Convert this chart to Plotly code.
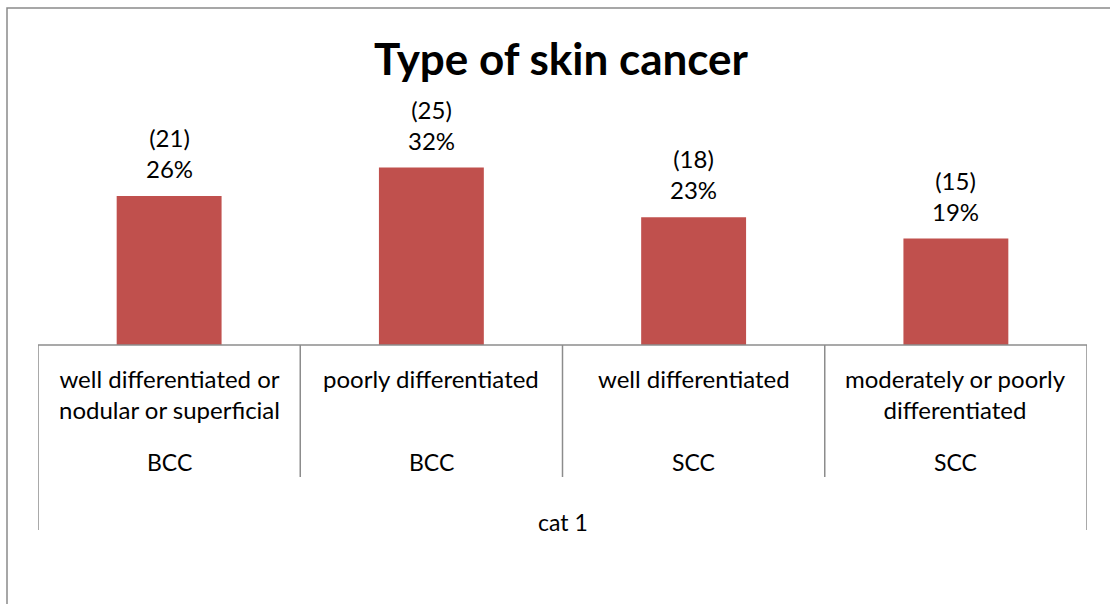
import plotly.graph_objects as go

# data
subtypes = ["well differentiated or<br>nodular or superficial", "poorly differentiated",
            "well differentiated", "moderately or poorly<br>differentiated"]
cancer_types = ["BCC", "BCC", "SCC", "SCC"]
group_label = "cat 1"
counts = [21, 25, 18, 15]
percent_labels = ["26%", "32%", "23%", "19%"]

W, H = 1110, 604
L, R, T, B = 38, 23, 90, 259   # plot area margins in px
plot_h = H - T - B
plot_w = W - L - R
BAR_COLOR = "#C0504D"
LINE_COLOR = "#8C8C8C"
FONT = "Lato"


def py(pix):
    # pixel row -> paper y
    return (H - B - pix) / plot_h


def px(pix):
    # pixel column -> paper x
    return (pix - L) / plot_w


xs = list(range(len(counts)))

fig = go.Figure()
fig.add_trace(go.Bar(x=xs, y=counts, marker_color=BAR_COLOR, marker_line_width=0,
                     hoverinfo="skip"))

shapes = []
# axis line
shapes.append(dict(type="line", xref="paper", yref="paper", x0=0, x1=1, y0=0, y1=0,
                   line=dict(color=LINE_COLOR, width=1.5)))
# outer dividers (long) and inner dividers (short)
for i in range(len(xs) + 1):
    xv = i - 0.5
    bottom = 530 if i in (0, len(xs)) else 477
    shapes.append(dict(type="line", xref="x", yref="paper", x0=xv, x1=xv,
                       y0=0, y1=py(bottom), line=dict(color=LINE_COLOR, width=1.5)))
# chart border
shapes.append(dict(type="rect", xref="paper", yref="paper", x0=px(7), x1=px(1130),
                   y0=py(640), y1=py(8), line=dict(color="#8A8A8A", width=1.5)))

annotations = []
# bar value labels
for i, (c, p) in enumerate(zip(counts, percent_labels)):
    annotations.append(dict(x=i, y=c, xref="x", yref="y", text=f"({c})<br>{p}",
                            showarrow=False, yanchor="bottom", yshift=11,
                            font=dict(family=FONT, size=24, color="black")))
# category table
for i, (s, c) in enumerate(zip(subtypes, cancer_types)):
    annotations.append(dict(x=i, y=py(362), xref="x", yref="paper", text=s, showarrow=False,
                            yanchor="top", font=dict(family=FONT, size=24, color="black")))
    annotations.append(dict(x=i, y=py(462), xref="x", yref="paper", text=c, showarrow=False,
                            yanchor="middle", font=dict(family=FONT, size=23, color="black")))
annotations.append(dict(x=0.5, y=py(522), xref="paper", yref="paper", text=group_label,
                        showarrow=False, yanchor="middle",
                        font=dict(family=FONT, size=23, color="black")))

fig.update_layout(
    width=W, height=H,
    margin=dict(l=L, r=R, t=T, b=B),
    title=dict(text="<b>Type of skin cancer</b>", x=px(561), xref="paper", xanchor="center",
               y=1 - 60 / H, yanchor="middle", font=dict(family=FONT, size=44, color="black")),
    bargap=0.6,
    showlegend=False,
    paper_bgcolor="white", plot_bgcolor="white",
    xaxis=dict(range=[-0.5, len(xs) - 0.5], showticklabels=False, showgrid=False,
               zeroline=False, showline=False, ticks=""),
    yaxis=dict(range=[0, plot_h / 7.1], visible=False),
    shapes=shapes,
    annotations=annotations,
)

# drop the default page margin so the chart sits at the window origin
fig.write_html("out.html", config={"displayModeBar": False},
               post_script="document.body.style.margin='0';")
